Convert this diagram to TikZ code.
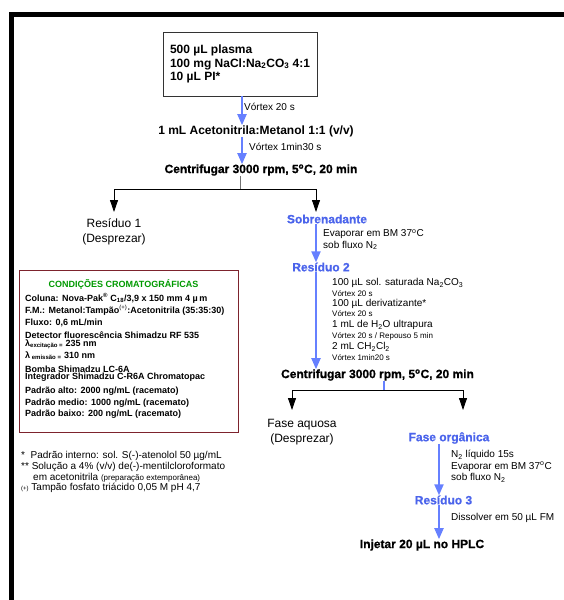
\documentclass[tikz,border=0pt]{standalone}
\usepackage{fontspec}
\setmainfont{Liberation Sans}
\newfontfamily\heavyfont{Liberation Sans Bold}[FakeBold=0.8]
\usepackage{xcolor}
\usetikzlibrary{arrows.meta}

\definecolor{flowblue}{RGB}{102,128,255}
\definecolor{labelblue}{RGB}{75,100,235}
\definecolor{condgreen}{RGB}{0,153,0}
\definecolor{condred}{RGB}{125,35,45}

\begin{document}
\begin{tikzpicture}[x=1pt, y=-1pt,
    every node/.style={inner sep=0pt, font=\fontsize{10}{11.5}\selectfont},
    big/.style={font=\fontsize{12}{13.5}\selectfont\bfseries},
    heavy/.style={font=\fontsize{12}{13.5}\selectfont\heavyfont},
    plain/.style={align=center, font=\fontsize{12}{14.5}\selectfont},
    phase/.style={heavy, text=labelblue},
    note/.style={anchor=west, align=left, font=\fontsize{10}{11.5}\selectfont},
    small/.style={anchor=west, font=\fontsize{8}{9}\selectfont},
    cond/.style={anchor=west, font=\fontsize{9}{10}\selectfont\bfseries},
    foot/.style={anchor=west, font=\fontsize{10}{11}\selectfont},
    flow/.style={draw=flowblue, line width=2pt, -{Triangle[length=11pt, width=9pt]}},
    split/.style={draw=black, line width=0.8pt, -{Triangle[length=12pt, width=8pt]}},
]
    \useasboundingbox (0,0) rectangle (564,600);
    % frame
    \draw [line width=5pt] (11,600) -- (11,14.5) -- (564,14.5);

    % columns of the arrows
    \coordinate (colA) at (242,0);
    \coordinate (colB) at (316,0);
    \coordinate (colE) at (439,0);

    % extraction
    \node [draw=black!80, line width=0.8pt, minimum width=154pt, minimum height=64pt,
           align=left, big] (sample) at (240,64)
          {500 µL plasma\\100 mg NaCl:Na\textsubscript{2}CO\textsubscript{3} 4:1\\10 µL PI*};
    \node [big] (acet) at (256,131) {1 mL Acetonitrila:Metanol 1:1 (v/v)};
    \node [note] (vort1) at (244,107) {Vórtex 20 s};
    \node [note] (vort2) at (249,147) {Vórtex 1min30 s};
    \node [heavy] (cent1) at (261,170) {Centrifugar 3000 rpm, 5\textsuperscript{o}C, 20 min};
    \draw [flow] (sample.south -| colA) -- (acet.north -| colA);
    \draw [flow] (acet.south -| colA) -- (cent1.north -| colA);

    \coordinate (fork1) at (240,189);
    \coordinate (res1tip) at (114,212);
    \coordinate (sobrtip) at (316,212);
    \draw [black!55, line width=1pt] (cent1.south -| fork1) -- (fork1);
    \draw [split] (fork1) -| (res1tip);
    \draw [split] (fork1) -| (sobrtip);

    \node [plain] (res1) at (114,232) {Resíduo 1\\(Desprezar)};
    \node [phase] (sobr) at (327,219) {Sobrenadante};
    \node [note] (evap1) at (323,239.5) {Evaporar em BM 37\textsuperscript{o}C\\sob fluxo N\textsubscript{2}};
    \node [phase] (res2) at (321,267) {Resíduo 2};
    \draw [flow] (sobr.south -| colB) -- (res2.north -| colB);

    % derivatization
    \node [note] (r2a) at (332,283) {100 µL sol. saturada Na\textsubscript{2}CO\textsubscript{3}};
    \node [small] (r2b) at (332,293.5) {Vórtex 20 s};
    \node [note] (r2c) at (332,303.5) {100 µL derivatizante*};
    \node [small] (r2d) at (332,314) {Vórtex 20 s};
    \node [note] (r2e) at (332,325) {1 mL de H\textsubscript{2}O ultrapura};
    \node [small] (r2f) at (332,336) {Vórtex 20 s / Repouso 5 min};
    \node [note] (r2g) at (332,347) {2 mL CH\textsubscript{2}Cl\textsubscript{2}};
    \node [small] (r2h) at (332,358) {Vórtex 1min20 s};
    \node [heavy] (cent2) at (377.5,375) {Centrifugar 3000 rpm, 5\textsuperscript{o}C, 20 min};
    \draw [flow] (res2.south -| colB) -- (cent2.north -| colB);

    \coordinate (fork2) at (384,390);
    \coordinate (aqtip) at (292,410);
    \coordinate (orgtip) at (463,410);
    \draw [flowblue, line width=1.2pt] (cent2.south -| fork2) -- (fork2);
    \draw [split] (fork2) -| (aqtip);
    \draw [split] (fork2) -| (orgtip);

    \node [plain] (aq) at (302,432) {Fase aquosa\\(Desprezar)};
    \node [phase] (org) at (449,438) {Fase orgânica};
    \node [note] (n2) at (451,466.5) {N\textsubscript{2} líquido 15s\\Evaporar em BM 37\textsuperscript{o}C\\sob fluxo N\textsubscript{2}};
    \node [phase] (res3) at (443.5,500) {Resíduo 3};
    \node [note] (diss) at (451,518) {Dissolver em 50 µL FM};
    \node [heavy] (inj) at (422,545) {Injetar 20 µL no HPLC};
    \draw [flow] (org.south -| colE) -- (res3.north -| colE);
    \draw [flow] (res3.south -| colE) -- (inj.north -| colE);

    % chromatographic conditions
    \node [draw=condred, line width=1pt, minimum width=219pt, minimum height=162pt] (cond) at (128.5,351) {};
    \node [cond, anchor=center, text=condgreen] (condtitle) at (123.5,284) {CONDIÇÕES CROMATOGRÁFICAS};
    \node [cond] (column) at (25,298) {Coluna: Nova-Pak\textsuperscript{®} C\textsubscript{18}/3,9 x 150 mm 4 µ\,m};
    \node [cond] (mobile) at (25,310.5) {F.M.: Metanol:Tampão\textsuperscript{\normalfont(+)}:Acetonitrila (35:35:30)};
    \node [cond] (flux) at (25,323) {Fluxo: 0,6 mL/min};
    \node [cond] (detector) at (25,335) {Detector fluorescência Shimadzu RF 535};
    \node [cond] (lexc) at (25,344) {λ\textsubscript{excitação =} 235 nm};
    \node [cond] (lem) at (25,356) {λ\textsubscript{ emissão =} 310 nm};
    \node [cond] (pump) at (25,369) {Bomba Shimadzu LC-6A};
    \node [cond] (integ) at (25,377.5) {Integrador Shimadzu C-R6A Chromatopac};
    \node [cond] (high) at (25,391) {Padrão alto: 2000 ng/mL (racemato)};
    \node [cond] (mid) at (25,403) {Padrão medio: 1000 ng/mL (racemato)};
    \node [cond] (low) at (25,414.5) {Padrão baixo: 200 ng/mL (racemato)};

    % footnotes
    \node [foot] (fn1) at (21,456) {*\; Padrão interno: sol. S(-)-atenolol 50 µg/mL};
    \node [foot] (fn2) at (21,467) {** Solução a 4\% (v/v) de(-)-mentilcloroformato};
    \node [foot] (fn3) at (33,477.5) {em acetonitrila {\fontsize{8}{9}\selectfont(preparação extemporânea)}};
    \node [foot] (fn4) at (21,488) {{\fontsize{6}{7}\selectfont(+)} Tampão fosfato triácido 0,05 M pH 4,7};
\end{tikzpicture}
\end{document}
